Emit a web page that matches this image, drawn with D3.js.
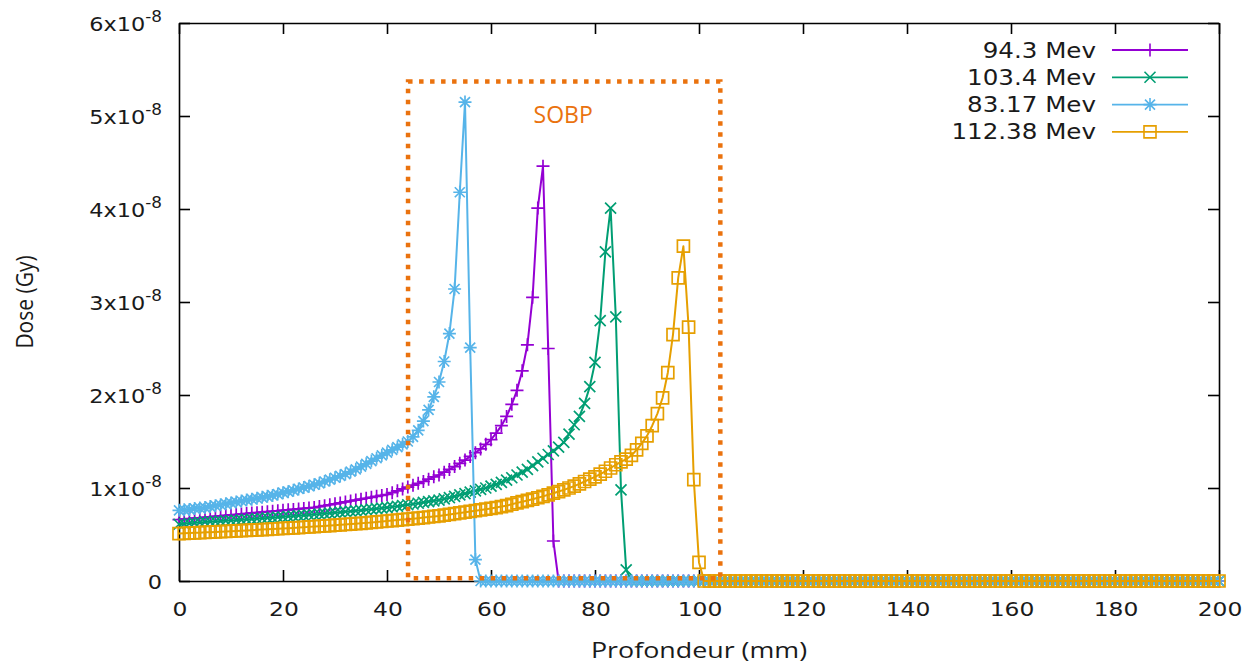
<!DOCTYPE html>
<html>
<head>
<meta charset="utf-8">
<script src="https://cdn.jsdelivr.net/npm/d3@7"></script>
<style>
  html, body { margin: 0; padding: 0; background: #fff; }
  svg { display: block; }
</style>
</head>
<body>
<svg id="chart" width="1258" height="664"></svg>
<script>
// ---------------- DATA (dose in units of 1e-8 Gy, one value per mm of depth, 0..200 mm) ----------------
const seriesNames = ["94.3 Mev", "103.4 Mev", "83.17 Mev", "112.38 Mev"];

const dose943 = [
  .66,.665,.67,.675,.68,.685,.69,.695,.70,.705,
  .71,.715,.72,.725,.73,.735,.74,.745,.75,.755,
  .76,.765,.77,.775,.78,.785,.79,.80,.81,.82,
  .83,.84,.85,.86,.87,.88,.89,.90,.91,.92,
  .93,.95,.97,.99,1.01,1.03,1.05,1.07,1.095,1.12,
  1.14,1.17,1.20,1.23,1.265,1.30,1.34,1.38,1.42,1.47,
  1.52,1.59,1.67,1.77,1.90,2.05,2.26,2.54,3.05,4.01,
  4.46,2.50,0.43,0,0,0,0,0,0,0,
  0,0,0,0,0,0,0,0,0,0,
  0,0,0,0,0,0,0,0,0,0,
  0,0,0,0,0,0,0,0,0,0,
  0,0,0,0,0,0,0,0,0,0,
  0,0,0,0,0,0,0,0,0,0,
  0,0,0,0,0,0,0,0,0,0,
  0,0,0,0,0,0,0,0,0,0,
  0,0,0,0,0,0,0,0,0,0,
  0,0,0,0,0,0,0,0,0,0,
  0,0,0,0,0,0,0,0,0,0,
  0,0,0,0,0,0,0,0,0,0,
  0,0,0,0,0,0,0,0,0,0,
  0
];

const dose1034 = [
  .61,.615,.62,.625,.63,.635,.638,.641,.644,.647,
  .65,.654,.658,.662,.666,.67,.674,.678,.682,.686,
  .69,.694,.698,.702,.706,.71,.715,.72,.725,.73,
  .735,.74,.745,.75,.755,.76,.766,.772,.778,.784,
  .79,.797,.804,.812,.82,.828,.836,.845,.854,.862,
  .87,.883,.896,.91,.925,.94,.955,.97,.985,1.0,
  1.02,1.04,1.06,1.085,1.11,1.14,1.17,1.20,1.24,1.28,
  1.32,1.36,1.40,1.44,1.49,1.58,1.68,1.77,1.91,2.09,
  2.35,2.80,3.54,4.01,2.84,0.98,0.12,0,0,0,
  0,0,0,0,0,0,0,0,0,0,
  0,0,0,0,0,0,0,0,0,0,
  0,0,0,0,0,0,0,0,0,0,
  0,0,0,0,0,0,0,0,0,0,
  0,0,0,0,0,0,0,0,0,0,
  0,0,0,0,0,0,0,0,0,0,
  0,0,0,0,0,0,0,0,0,0,
  0,0,0,0,0,0,0,0,0,0,
  0,0,0,0,0,0,0,0,0,0,
  0,0,0,0,0,0,0,0,0,0,
  0,0,0,0,0,0,0,0,0,0,
  0
];

const dose8317 = [
  .76,.765,.77,.78,.785,.79,.80,.81,.82,.83,
  .84,.85,.86,.87,.88,.89,.90,.91,.92,.935,
  .95,.96,.975,.99,1.005,1.02,1.035,1.05,1.07,1.09,
  1.11,1.13,1.15,1.175,1.20,1.23,1.26,1.29,1.32,1.35,
  1.38,1.41,1.44,1.47,1.50,1.55,1.62,1.72,1.84,1.98,
  2.14,2.36,2.66,3.14,4.18,5.15,2.51,0.23,0,0,
  0,0,0,0,0,0,0,0,0,0,
  0,0,0,0,0,0,0,0,0,0,
  0,0,0,0,0,0,0,0,0,0,
  0,0,0,0,0,0,0,0,0,0,
  0,0,0,0,0,0,0,0,0,0,
  0,0,0,0,0,0,0,0,0,0,
  0,0,0,0,0,0,0,0,0,0,
  0,0,0,0,0,0,0,0,0,0,
  0,0,0,0,0,0,0,0,0,0,
  0,0,0,0,0,0,0,0,0,0,
  0,0,0,0,0,0,0,0,0,0,
  0,0,0,0,0,0,0,0,0,0,
  0,0,0,0,0,0,0,0,0,0,
  0,0,0,0,0,0,0,0,0,0,
  0
];

const dose11238 = [
  .51,.513,.515,.518,.52,.523,.525,.528,.53,.533,
  .535,.538,.541,.544,.547,.55,.553,.556,.559,.562,
  .565,.568,.571,.575,.578,.582,.585,.589,.592,.596,
  .60,.604,.608,.612,.616,.62,.625,.63,.635,.64,
  .645,.65,.655,.66,.665,.67,.676,.682,.688,.694,
  .70,.708,.716,.724,.732,.74,.748,.756,.764,.772,
  .78,.79,.80,.81,.825,.84,.853,.866,.88,.895,
  .91,.927,.944,.962,.98,1.00,1.02,1.045,1.07,1.095,
  1.12,1.15,1.18,1.215,1.25,1.28,1.31,1.35,1.41,1.48,
  1.56,1.67,1.80,1.97,2.24,2.65,3.26,3.60,2.73,1.09,
  0.20,0,0,0,0,0,0,0,0,0,
  0,0,0,0,0,0,0,0,0,0,
  0,0,0,0,0,0,0,0,0,0,
  0,0,0,0,0,0,0,0,0,0,
  0,0,0,0,0,0,0,0,0,0,
  0,0,0,0,0,0,0,0,0,0,
  0,0,0,0,0,0,0,0,0,0,
  0,0,0,0,0,0,0,0,0,0,
  0,0,0,0,0,0,0,0,0,0,
  0,0,0,0,0,0,0,0,0,0,
  0
];

const xTicks = [0, 20, 40, 60, 80, 100, 120, 140, 160, 180, 200];
const yTicks = [0, 1, 2, 3, 4, 5, 6];
const yTickMantissa = ["0", "1x10", "2x10", "3x10", "4x10", "5x10", "6x10"];
const yTickExponent = "-8";
const xTitle = "Profondeur (mm)";
const yTitle = "Dose (Gy)";
const sobpLabel = "SOBP";
const sobpRange = [44.05, 104.1];   // depth range of the SOBP box (mm)
const sobpTop = 5.37;               // top of the box (1e-8 Gy)

// ---------------- STYLES ----------------
const colors = ["#9400d3", "#009e73", "#56b4e9", "#e69f00"];
const markers = ["plus", "cross", "star", "square"];
const series = [dose943, dose1034, dose8317, dose11238];
const SX = 1.17; // horizontal stretch of the reference picture's text
const tickFont = "DejaVu Sans";

const svg = d3.select("#chart");
const W = 1258, H = 664;
const L = 179, R = 1219, T = 23, B = 581;

const x = d3.scaleLinear().domain([0, 200]).range([L, R]);
const y = d3.scaleLinear().domain([0, 6]).range([B, T]);

function stretched(g, px, py, anchor, str, size, family, fill) {
  return g.append("text")
    .attr("transform", `translate(${px},${py}) scale(${SX},1)`)
    .attr("text-anchor", anchor)
    .attr("font-family", family)
    .attr("font-size", size)
    .attr("fill", fill || "#1a1a1a")
    .text(str);
}

// ---------------- AXES / BORDER ----------------
const axisG = svg.append("g").attr("class", "axes");
function styleAxis(g) {
  g.selectAll("path, line").attr("stroke", "#000").attr("stroke-width", 1.6);
  g.selectAll("text").remove();
}
axisG.append("g").attr("transform", `translate(0,${B})`)
  .call(d3.axisBottom(x).tickValues(xTicks).tickSizeInner(-11).tickSizeOuter(0)).call(styleAxis);
axisG.append("g").attr("transform", `translate(0,${T})`)
  .call(d3.axisTop(x).tickValues(xTicks).tickSizeInner(-11).tickSizeOuter(0)).call(styleAxis);
axisG.append("g").attr("transform", `translate(${L},0)`)
  .call(d3.axisLeft(y).tickValues(yTicks).tickSizeInner(-11).tickSizeOuter(0)).call(styleAxis);
axisG.append("g").attr("transform", `translate(${R},0)`)
  .call(d3.axisRight(y).tickValues(yTicks).tickSizeInner(-11).tickSizeOuter(0)).call(styleAxis);

// tick labels
const labG = svg.append("g");
xTicks.forEach(v => stretched(labG, x(v) + 1, B + 35, "middle", String(v), 20, tickFont));
yTicks.forEach((v, i) => {
  const t = labG.append("text")
    .attr("transform", `translate(${L - 17},${y(v) + 7.5}) scale(1.12,1)`)
    .attr("text-anchor", "end")
    .attr("font-family", tickFont)
    .attr("font-size", 20)
    .attr("fill", "#1a1a1a");
  t.append("tspan").text(yTickMantissa[i]);
  if (v !== 0) {
    t.append("tspan").attr("font-size", 15).attr("dy", -9).text(yTickExponent);
  }
});

// axis titles
svg.append("text")
  .attr("transform", `translate(${(L + R) / 2},${H - 6}) scale(1.22,1)`)
  .attr("text-anchor", "middle").attr("font-family", "Open Sans").attr("font-size", 22)
  .attr("fill", "#1a1a1a").text(xTitle);
svg.append("text")
  .attr("transform", `translate(33,${(T + B) / 2}) rotate(-90) scale(1,1.12)`)
  .attr("text-anchor", "middle").attr("font-family", "Open Sans").attr("font-size", 21)
  .attr("fill", "#1a1a1a").text(yTitle);

// ---------------- SERIES ----------------
function markerPath(type) {
  switch (type) {
    case "plus": return "M-6.5,0H6.5M0,-6.5V6.5";
    case "cross": return "M-5.5,-5.5L5.5,5.5M-5.5,5.5L5.5,-5.5";
    case "star": return "M-6.5,0H6.5M0,-6.5V6.5M-5,-5L5,5M-5,5L5,-5";
    case "square": return "M-6,-6H6V6H-6Z";
  }
}
const line = d3.line().x((d, i) => x(i)).y(d => y(d));
const plotG = svg.append("g");
series.forEach((vals, s) => {
  const g = plotG.append("g");
  g.append("path").datum(vals)
    .attr("d", line).attr("fill", "none")
    .attr("stroke", colors[s]).attr("stroke-width", 2).attr("stroke-linejoin", "round");
  g.selectAll("path.pt").data(vals).join("path")
    .attr("class", "pt")
    .attr("transform", (d, i) => `translate(${x(i)},${y(d)})`)
    .attr("d", markerPath(markers[s]))
    .attr("fill", "none").attr("stroke", colors[s]).attr("stroke-width", 1.7);
});

// ---------------- SOBP BOX ----------------
const boxColor = "#ea720e";
svg.append("rect")
  .attr("x", x(sobpRange[0])).attr("y", y(sobpTop))
  .attr("width", x(sobpRange[1]) - x(sobpRange[0]))
  .attr("height", y(0.03) - y(sobpTop))
  .attr("fill", "none").attr("stroke", boxColor)
  .attr("stroke-width", 4.5).attr("stroke-dasharray", "4.5,6.5");
svg.append("text")
  .attr("x", x((sobpRange[0] + sobpRange[1]) / 2 - 0.2))
  .attr("y", y(sobpTop) + 41)
  .attr("text-anchor", "middle").attr("font-family", "Open Sans").attr("font-size", 23)
  .attr("fill", boxColor).text(sobpLabel);

// ---------------- LEGEND ----------------
const legG = svg.append("g");
seriesNames.forEach((name, s) => {
  const ly = 50 + s * 27.3;
  stretched(legG, 1096, ly + 7.5, "end", name, 21, tickFont);
  legG.append("line").attr("x1", 1112).attr("x2", 1188).attr("y1", ly).attr("y2", ly)
    .attr("stroke", colors[s]).attr("stroke-width", 1.8);
  legG.append("path").attr("transform", `translate(1150,${ly})`)
    .attr("d", markerPath(markers[s]))
    .attr("fill", "none").attr("stroke", colors[s]).attr("stroke-width", 1.6);
});
</script>
</body>
</html>
